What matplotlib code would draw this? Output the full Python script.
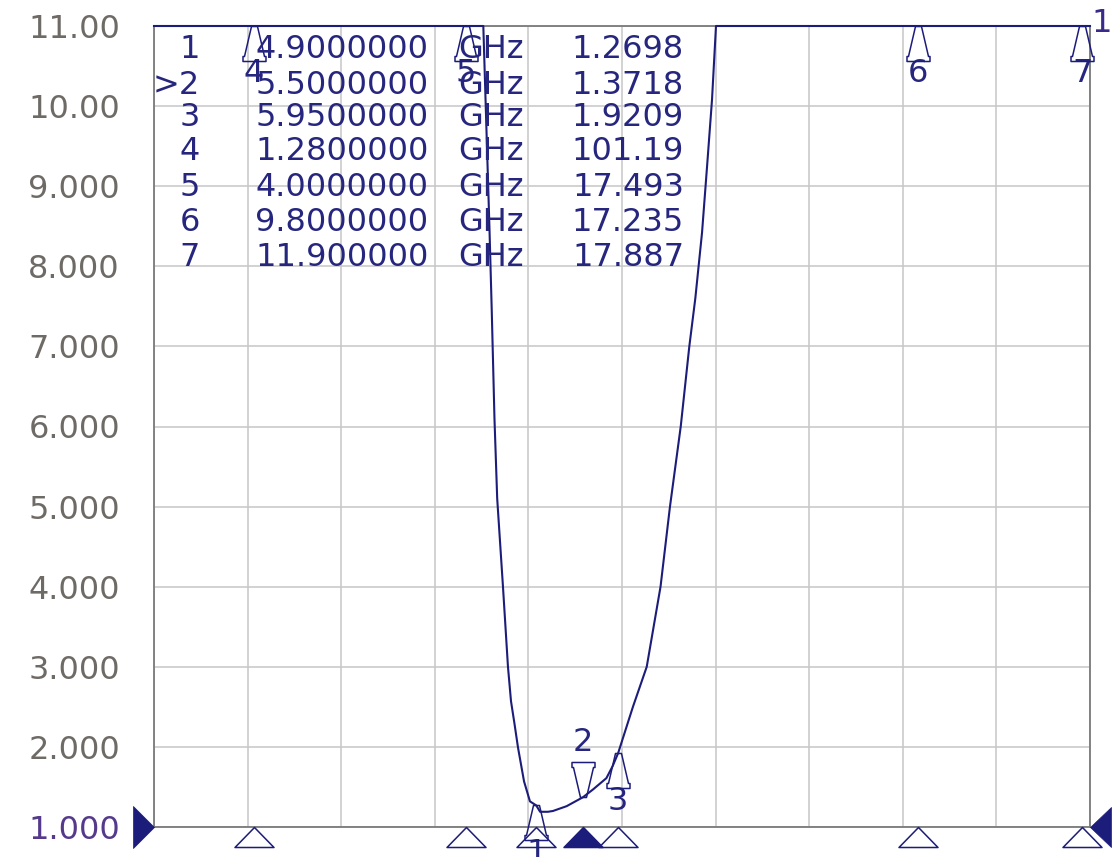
import numpy as np
import matplotlib
matplotlib.use("Agg")
import matplotlib.pyplot as plt
from matplotlib.path import Path
from matplotlib import transforms

# ---------------- data ----------------
freq_ghz = [0.0, 1.28, 4.0, 4.222, 4.25, 4.275, 4.30, 4.33, 4.365, 4.40, 4.474,
            4.538, 4.577, 4.62, 4.667, 4.744, 4.82, 4.90, 4.95, 5.05, 5.115, 5.29, 5.50,
            5.63, 5.80, 5.88, 5.95, 6.14, 6.317, 6.494, 6.615, 6.753, 6.863,
            6.94, 7.026, 7.09, 7.154, 7.205, 9.8, 11.9, 12.0]
vswr = [150.0, 101.19, 17.493, 11.0, 10.1, 9.3, 8.5, 7.45, 6.1, 5.1, 4.0,
        3.0, 2.57, 2.30, 1.99, 1.57, 1.32, 1.2698, 1.19, 1.19, 1.20, 1.26, 1.3718,
        1.47, 1.61, 1.76, 1.9209, 2.5, 3.0, 4.0, 5.0, 6.0, 7.0,
        7.6, 8.42, 9.24, 10.08, 11.0, 17.235, 17.887, 18.0]

marker_ids = [1, 2, 3, 4, 5, 6, 7]
marker_freq = [4.9, 5.5, 5.95, 1.28, 4.0, 9.8, 11.9]
marker_vswr = [1.2698, 1.3718, 1.9209, 101.19, 17.493, 17.235, 17.887]
active_marker = 2

y_ticks = [1, 2, 3, 4, 5, 6, 7, 8, 9, 10, 11]
y_tick_labels = ["1.000", "2.000", "3.000", "4.000", "5.000", "6.000",
                 "7.000", "8.000", "9.000", "10.00", "11.00"]
x_min, x_max = 0.0, 12.0
y_min, y_max = 1.0, 11.0
x_divisions = 10

# ---------------- style ----------------
W, H = 1115, 857
NAVY = "#1c1c7a"
TXT = "#26267f"
GRID = "#c6c6c6"
FS = 23
PX = 0.72  # points per pixel at dpi 100

plt.rcParams["font.family"] = ["DejaVu Sans"]

fig = plt.figure(figsize=(W / 100, H / 100), dpi=100)
ax = fig.add_axes([154 / W, 1 - 827 / H, (1090 - 154) / W, (827 - 26) / H])
ax.set_xlim(x_min, x_max)
ax.set_ylim(y_min, y_max)
ax.set_xticks(np.linspace(x_min, x_max, x_divisions + 1))
ax.set_yticks(y_ticks)
ax.set_yticklabels(y_tick_labels)
ax.grid(True, color=GRID, lw=1.1)
ax.set_axisbelow(True)
ax.tick_params(length=0, labelbottom=False, pad=34 * PX, labelsize=FS,
               labelcolor="#6e6a66")
for lab in ax.get_yticklabels():
    if lab.get_text() == "1.000":
        lab.set_color("#553a8c")
for s in ax.spines.values():
    s.set_color("#7a7a7a")
    s.set_linewidth(1.3)

# trace (clipped at top of display)
ax.plot(freq_ghz, np.minimum(np.array(vswr), y_max), color=NAVY, lw=1.5,
        clip_on=False, zorder=5)

# marker shapes (pixel units, tip at origin)
up_verts = [(-3, 0), (3, 0), (10, -30), (11.5, -30), (11.5, -35), (-11.5, -35),
            (-11.5, -30), (-10, -30), (-3, 0)]
up_path = Path(up_verts, closed=True)
down_path = Path([(x, -y) for x, y in up_verts], closed=True)
ms_marker = 2 * 35 * PX

for mid, mf, mv in zip(marker_ids, marker_freq, marker_vswr):
    y = min(mv, y_max)
    if mid == active_marker:
        ax.plot(mf, y, marker=down_path, ms=ms_marker, mfc="none", mec=NAVY,
                mew=1.1, clip_on=False, zorder=6)
        ax.annotate(str(mid), xy=(mf, y), xytext=(0, 55 * PX), textcoords="offset points",
                    ha="center", va="center", fontsize=FS, color=TXT,
                    annotation_clip=False)
    else:
        ax.plot(mf, y, marker=up_path, ms=ms_marker, mfc="none", mec=NAVY,
                mew=1.1, clip_on=False, zorder=6)
        ax.annotate(str(mid), xy=(mf, y), xytext=(0, -48 * PX), textcoords="offset points",
                    ha="center", va="center", fontsize=FS, color=TXT,
                    annotation_clip=False)

# stimulus indicators below the axis
bottom_path = Path([(0, 0), (19.5, -20), (-19.5, -20), (0, 0)], closed=True)
blend_x = transforms.blended_transform_factory(ax.transData, ax.transAxes)
for mid, mf in zip(marker_ids, marker_freq):
    filled = mid == active_marker
    ax.plot(mf, 0, transform=blend_x, marker=bottom_path, ms=2 * 20 * PX,
            mfc=NAVY if filled else "none", mec=NAVY, mew=1.1, clip_on=False, zorder=7)

# reference level indicators
blend_y = transforms.blended_transform_factory(ax.transAxes, ax.transData)
right_tri = Path([(0, 0), (-20, 20), (-20, -20), (0, 0)], closed=True)
left_tri = Path([(0, 0), (21, 20), (21, -20), (0, 0)], closed=True)
ax.plot(0, y_min, transform=blend_y, marker=right_tri, ms=2 * 21 * PX, mfc=NAVY,
        mec=NAVY, mew=0.5, clip_on=False, zorder=7)
ax.plot(1, y_min, transform=blend_y, marker=left_tri, ms=2 * 21 * PX, mfc=NAVY,
        mec=NAVY, mew=0.5, clip_on=False, zorder=7)

# trace number at top right
fig.text(1102 / W, 1 - 24 / H, "1", ha="center", va="center", fontsize=FS, color="#3a2a8a")

# marker table
def fmt_sig(v, sig):
    intd = len(str(int(abs(v))))
    return f"{v:.{max(sig - intd, 0)}f}"

row_y = [50, 85, 118, 152, 187, 222, 257]
for ry, mid, mf, mv in zip(row_y, marker_ids, marker_freq, marker_vswr):
    yy = 1 - ry / H
    label = (">" if mid == active_marker else "") + str(mid)
    fig.text(200 / W, yy, label, ha="right", va="center", fontsize=FS, color=TXT)
    fig.text(342 / W, yy, fmt_sig(mf, 8), ha="center", va="center", fontsize=FS, color=TXT)
    fig.text(491 / W, yy, "GHz", ha="center", va="center", fontsize=FS, color=TXT)
    fig.text(628 / W, yy, fmt_sig(mv, 5), ha="center", va="center", fontsize=FS, color=TXT)

fig.savefig("out.png", dpi=100)
